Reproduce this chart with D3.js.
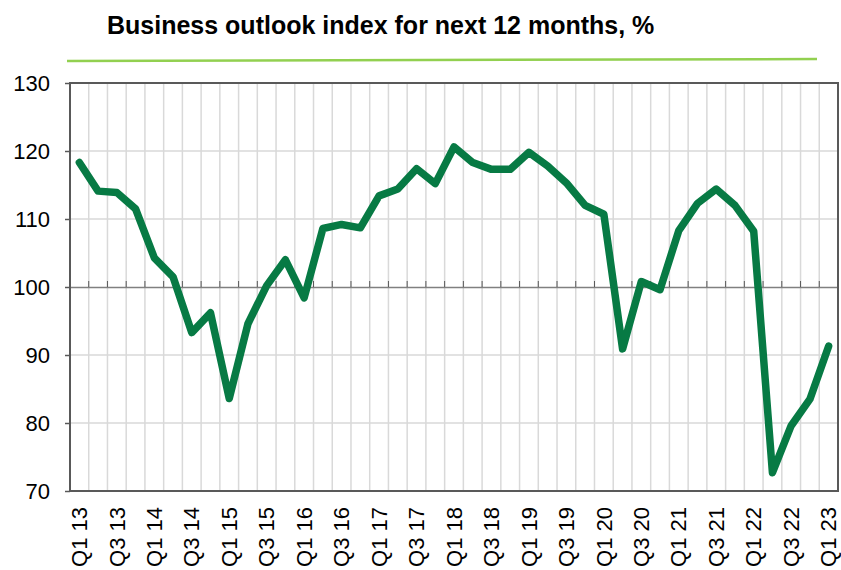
<!DOCTYPE html>
<html>
<head>
<meta charset="utf-8">
<script src="https://cdn.jsdelivr.net/npm/d3@7"></script>
<style>
  body { margin: 0; background: #fff; }
  svg { display: block; font-family: "Liberation Sans", Arial, sans-serif; }
</style>
</head>
<body>
<svg width="841" height="570"></svg>
<script>
// quarters Q1 13 .. Q1 23
var quarters = [];
for (var yr = 13; yr <= 23; yr++) {
    for (var q = 1; q <= 4; q++) {
        if (yr == 23 && q > 1) break;
        quarters.push("Q" + q + " " + yr);
    }
}

var outlook = [
    118.3, 114.1, 113.9, 111.5,
    104.3, 101.5, 93.3, 96.2,
    83.6, 94.6, 100.2, 104.0,
    98.4, 108.6, 109.2, 108.7,
    113.4, 114.4, 117.4, 115.2,
    120.6, 118.3, 117.3, 117.3,
    119.8, 117.8, 115.3, 112.0,
    110.7, 90.9, 100.8, 99.6,
    108.3, 112.3, 114.4, 112.0,
    108.2, 72.7, 79.6, 83.5,
    91.3
];

var yTicks = [70, 80, 90, 100, 110, 120, 130];

var titleText = "Business outlook index for next 12 months, %";

var svg = d3.select("svg");

var plotLeft = 70, plotRight = 838, plotTop = 83, plotBottom = 491;

var x = d3.scaleBand().domain(quarters).range([plotLeft, plotRight]).padding(0);
var y = d3.scaleLinear().domain([70, 130]).range([plotBottom, plotTop]);

// title + green rule
svg.append("text")
    .attr("x", 107)
    .attr("y", 34)
    .attr("font-size", "25px")
    .attr("font-weight", "bold")
    .attr("fill", "#000")
    .text(titleText);

svg.append("line")
    .attr("x1", 67).attr("y1", 61)
    .attr("x2", 817).attr("y2", 59)
    .attr("stroke", "#92d050")
    .attr("stroke-width", 2.5);

// vertical grid at band edges
var edges = quarters.slice(1).map(function(d){ return x(d); });
svg.append("g")
    .selectAll("line")
    .data(edges)
    .join("line")
    .attr("x1", function(d){ return d; })
    .attr("x2", function(d){ return d; })
    .attr("y1", plotTop)
    .attr("y2", plotBottom)
    .attr("stroke", "#d9d9d9")
    .attr("stroke-width", 1.5);

// horizontal grid
svg.append("g")
    .selectAll("line")
    .data(yTicks.filter(function(d){ return d != 70 && d != 130 && d != 100; }))
    .join("line")
    .attr("x1", plotLeft)
    .attr("x2", plotRight)
    .attr("y1", function(d){ return y(d); })
    .attr("y2", function(d){ return y(d); })
    .attr("stroke", "#d9d9d9")
    .attr("stroke-width", 1.5);

// category axis crossing at 100, ticks upward
var gx = svg.append("g")
    .attr("transform", "translate(0," + y(100) + ")")
    .call(d3.axisTop(x).tickSize(0).tickFormat(""));
gx.select(".domain").attr("stroke", "#808080").attr("stroke-width", 1.5);

svg.append("g")
    .selectAll("line")
    .data(edges)
    .join("line")
    .attr("x1", function(d){ return d; })
    .attr("x2", function(d){ return d; })
    .attr("y1", y(100))
    .attr("y2", y(100) - 6)
    .attr("stroke", "#595959")
    .attr("stroke-width", 1);

// y axis
var gy = svg.append("g")
    .attr("transform", "translate(" + plotLeft + ",0)")
    .call(d3.axisLeft(y).tickValues(yTicks).tickSize(5).tickPadding(15));
gy.select(".domain").remove();
gy.selectAll(".tick line").attr("stroke", "#595959").attr("stroke-width", 1.5);
gy.selectAll(".tick text")
    .attr("font-size", "22px")
    .attr("font-family", "Liberation Sans, Arial, sans-serif")
    .attr("fill", "#000");

// plot border
svg.append("rect")
    .attr("x", plotLeft)
    .attr("y", plotTop)
    .attr("width", plotRight - plotLeft)
    .attr("height", plotBottom - plotTop)
    .attr("fill", "none")
    .attr("stroke", "#595959")
    .attr("stroke-width", 2);

// x labels, every other quarter
svg.append("g")
    .selectAll("text")
    .data(quarters.filter(function(d, i){ return i % 2 == 0; }))
    .join("text")
    .attr("transform", function(d){
        return "translate(" + (x(d) + x.bandwidth() / 2) + "," + (plotBottom + 16) + ") rotate(-90)";
    })
    .attr("text-anchor", "end")
    .attr("dy", "0.35em")
    .attr("font-size", "22px")
    .attr("fill", "#000")
    .text(function(d){ return d; });

// series
var line = d3.line()
    .x(function(d, i){ return x(quarters[i]) + x.bandwidth() / 2; })
    .y(function(d){ return y(d); });

svg.append("path")
    .datum(outlook)
    .attr("d", line)
    .attr("fill", "none")
    .attr("stroke", "#077a44")
    .attr("stroke-width", 7.5)
    .attr("stroke-linejoin", "round")
    .attr("stroke-linecap", "round");
</script>
</body>
</html>
